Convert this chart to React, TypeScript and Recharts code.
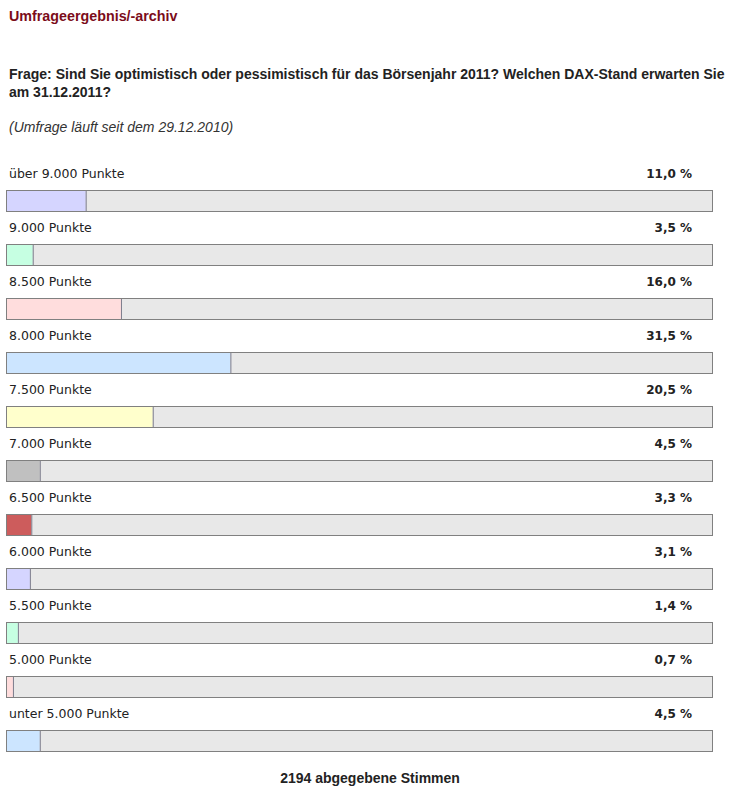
import React from "react"
import { BarChart, Bar, XAxis, YAxis } from "recharts"

// Umfrage: erwarteter DAX-Stand am 31.12.2011
const CATEGORIES = [
  "über 9.000 Punkte",
  "9.000 Punkte",
  "8.500 Punkte",
  "8.000 Punkte",
  "7.500 Punkte",
  "7.000 Punkte",
  "6.500 Punkte",
  "6.000 Punkte",
  "5.500 Punkte",
  "5.000 Punkte",
  "unter 5.000 Punkte",
]
const PERCENTS = [11.0, 3.5, 16.0, 31.5, 20.5, 4.5, 3.3, 3.1, 1.4, 0.7, 4.5]
const BAR_COLORS = [
  "#d5d5ff",
  "#c6ffe2",
  "#ffdddd",
  "#cce5ff",
  "#ffffcc",
  "#c0c0c0",
  "#cd5c5c",
  "#d5d5ff",
  "#c6ffe2",
  "#ffdddd",
  "#cce5ff",
]
const TOTAL_VOTES = 2194

const data = CATEGORIES.map((name, i) => ({ name, value: PERCENTS[i] }))

const fmt = (v: number) => v.toFixed(1).replace(".", ",") + " %"

const labelFont = "'DejaVu Sans', Verdana, sans-serif"
const headFont = "'Liberation Sans', Arial, sans-serif"

function Track(props: any) {
  const { x, y, width, height, index } = props
  return (
    <g>
      <rect x={x + 0.5} y={y + 0.5} width={width} height={height - 1} fill="#e8e8e8" stroke="#808080" />
      <text x={x + 3} y={y - 12} fontFamily={labelFont} fontSize={12.5} fill="#222">
        {CATEGORIES[index]}
      </text>
      <text
        x={x + width - 20}
        y={y - 12}
        textAnchor="end"
        fontFamily={labelFont}
        fontSize={12}
        fontWeight="bold"
        fill="#222"
      >
        {fmt(PERCENTS[index])}
      </text>
    </g>
  )
}

function Fill(props: any) {
  const { x, y, width, height, index } = props
  const w = width + 2
  return (
    <g>
      <rect x={x + 1} y={y + 1} width={Math.max(w - 1, 0)} height={height - 2} fill={BAR_COLORS[index]} />
      <line x1={x + w + 0.5} x2={x + w + 0.5} y1={y + 1} y2={y + height - 1} stroke="#7c7c8c" />
    </g>
  )
}

export default function App() {
  return (
    <div style={{ position: "absolute", left: 0, top: 0, width: 737, height: 800, background: "#fff" }}>
      <div
        style={{
          position: "absolute",
          left: 9,
          top: 8,
          fontFamily: headFont,
          fontWeight: "bold",
          fontSize: 14.3,
          color: "#7b0c1a",
        }}
      >
        Umfrageergebnis/-archiv
      </div>
      <div
        style={{
          position: "absolute",
          left: 9,
          top: 65,
          width: 726,
          fontFamily: headFont,
          fontWeight: "bold",
          fontSize: 14,
          lineHeight: "18px",
          color: "#222",
        }}
      >
        Frage: Sind Sie optimistisch oder pessimistisch für das Börsenjahr 2011? Welchen DAX-Stand erwarten Sie
        am 31.12.2011?
      </div>
      <div
        style={{
          position: "absolute",
          left: 9,
          top: 119,
          fontFamily: headFont,
          fontStyle: "italic",
          fontSize: 14,
          color: "#333",
        }}
      >
        (Umfrage läuft seit dem 29.12.2010)
      </div>
      <div style={{ position: "absolute", left: 0, top: 154 }}>
        <BarChart
          width={737}
          height={614}
          data={data}
          layout="vertical"
          margin={{ top: 20, right: 25, bottom: 0, left: 6 }}
        >
          <XAxis type="number" domain={[0, 100]} hide />
          <YAxis type="category" dataKey="name" hide />
          <Bar
            dataKey="value"
            barSize={22}
            background={(p: any) => <Track {...p} />}
            shape={(p: any) => <Fill {...p} />}
            isAnimationActive={false}
          />
        </BarChart>
      </div>
      <div
        style={{
          position: "absolute",
          left: 0,
          width: 740,
          top: 770,
          textAlign: "center",
          fontFamily: headFont,
          fontWeight: "bold",
          fontSize: 14,
          color: "#222",
        }}
      >
        {TOTAL_VOTES} abgegebene Stimmen
      </div>
    </div>
  )
}
